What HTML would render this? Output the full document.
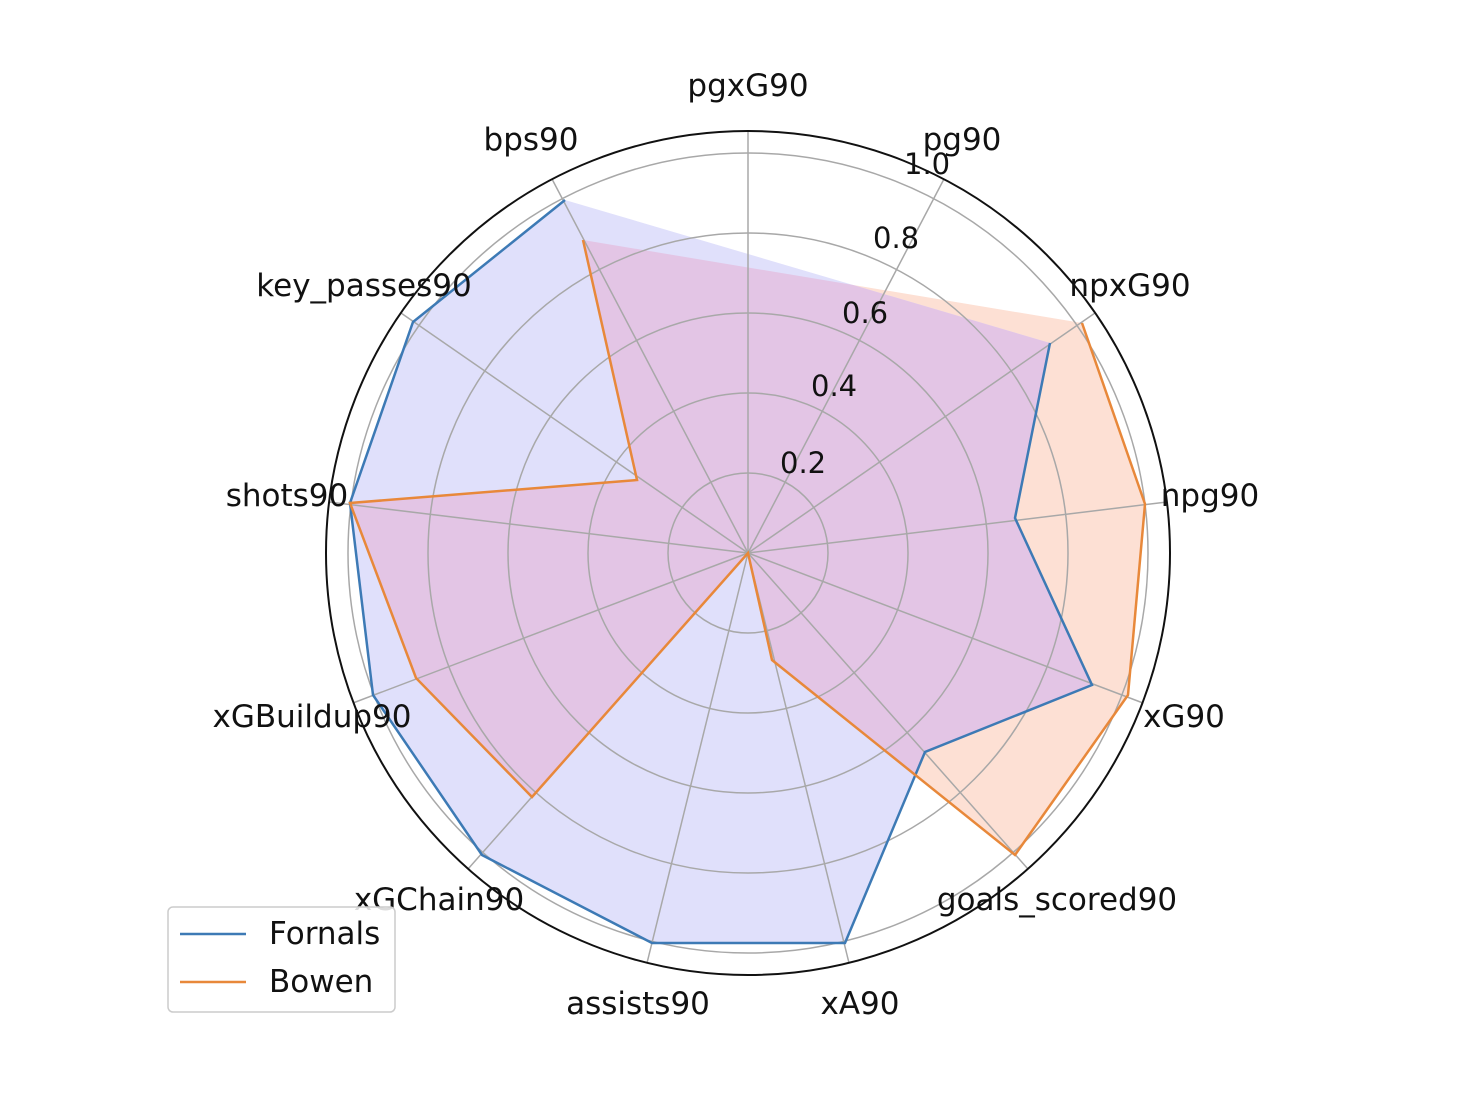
<!DOCTYPE html>
<html><head><style>body{margin:0;background:#fff}svg{display:block}text{font-family:"DejaVu Sans","Liberation Sans",sans-serif;font-size:31px;fill:#111}.t{font-size:29px}</style></head>
<body>
<svg width="1460" height="1095" viewBox="0 0 1460 1095">
<defs><clipPath id="cf"><polygon points="565,200 413,322 350,503 373,695 482,855 652,943 845,943 925,752 1092,685 1015,518 1050,343"/></clipPath></defs>
<polygon points="583,240 637,480 350,503 416,678 532,797 748,553 772,660 1015,855 1128,695 1145,504 1082,323" fill="#fde0d4"/>
<polygon points="565,200 413,322 350,503 373,695 482,855 652,943 845,943 925,752 1092,685 1015,518 1050,343" fill="#e0e0fb"/>
<polygon points="583,240 637,480 350,503 416,678 532,797 748,553 772,660 1015,855 1128,695 1145,504 1082,323" fill="#e3c5e5" clip-path="url(#cf)"/>
<g fill="none" stroke="#a8a8a8" stroke-width="1.5">
<circle cx="748" cy="553" r="80"/><circle cx="748" cy="553" r="160"/><circle cx="748" cy="553" r="240"/><circle cx="748" cy="553" r="320"/><circle cx="748" cy="553" r="400"/>
</g>
<g stroke="#a8a8a8" stroke-width="1.5">
<line x1="748" y1="553" x2="748" y2="131"/>
<line x1="748" y1="553" x2="944" y2="179"/>
<line x1="748" y1="553" x2="1095" y2="313"/>
<line x1="748" y1="553" x2="1167" y2="502"/>
<line x1="748" y1="553" x2="1143" y2="703"/>
<line x1="748" y1="553" x2="1028" y2="869"/>
<line x1="748" y1="553" x2="849" y2="963"/>
<line x1="748" y1="553" x2="647" y2="963"/>
<line x1="748" y1="553" x2="468" y2="869"/>
<line x1="748" y1="553" x2="353" y2="703"/>
<line x1="748" y1="553" x2="329" y2="502"/>
<line x1="748" y1="553" x2="401" y2="313"/>
<line x1="748" y1="553" x2="552" y2="179"/>
</g>
<circle cx="748" cy="553" r="422" fill="none" stroke="#111" stroke-width="2"/>
<polyline points="1050,343 1015,518 1092,685 925,752 845,943 652,943 482,855 373,695 350,503 413,322 565,200" fill="none" stroke="#3d7ab5" stroke-width="2.5"/>
<polyline points="1082,323 1145,504 1128,695 1015,855 772,660 748,553 532,797 416,678 350,503 637,480 583,240" fill="none" stroke="#e8883a" stroke-width="2.5"/>
<text class="t" x="780" y="473">0.2</text><text class="t" x="811" y="396">0.4</text><text class="t" x="842" y="323">0.6</text><text class="t" x="873" y="248">0.8</text><text class="t" x="904" y="174">1.0</text>
<text x="748" y="96" text-anchor="middle">pgxG90</text>
<text x="962" y="150" text-anchor="middle">pg90</text>
<text x="1130" y="296" text-anchor="middle">npxG90</text>
<text x="1210" y="506" text-anchor="middle">npg90</text>
<text x="1184" y="727" text-anchor="middle">xG90</text>
<text x="1057" y="910" text-anchor="middle">goals_scored90</text>
<text x="860" y="1014" text-anchor="middle">xA90</text>
<text x="638" y="1014" text-anchor="middle">assists90</text>
<text x="439" y="910" text-anchor="middle">xGChain90</text>
<text x="312" y="727" text-anchor="middle">xGBuildup90</text>
<text x="287" y="506" text-anchor="middle">shots90</text>
<text x="364" y="296" text-anchor="middle">key_passes90</text>
<text x="531" y="150" text-anchor="middle">bps90</text>
<rect x="168" y="907" width="227" height="105" rx="5" fill="#fff" fill-opacity="0.85" stroke="#ccc" stroke-width="1.5"/>
<line x1="180" y1="934" x2="246" y2="934" stroke="#3d7ab5" stroke-width="2.5"/>
<line x1="180" y1="982" x2="246" y2="982" stroke="#e8883a" stroke-width="2.5"/>
<text x="269" y="944">Fornals</text>
<text x="269" y="992">Bowen</text>
</svg>
</body></html>
